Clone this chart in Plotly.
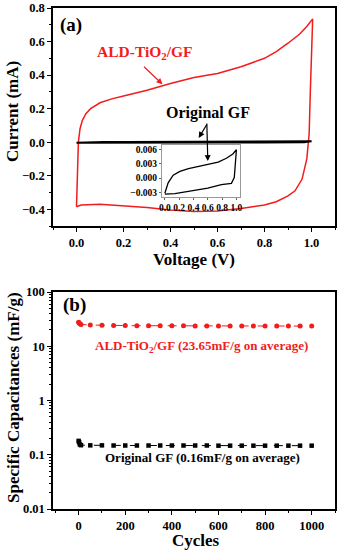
import plotly.graph_objects as go

# ---- Panel (a): CV curves ----
ald_v = [0.0, 0.003, 0.008, 0.015, 0.025, 0.04, 0.06, 0.1, 0.15, 0.2, 0.3, 0.4, 0.5, 0.6, 0.7, 0.8, 0.85, 0.9, 0.95, 0.98, 1.005,
         0.995, 0.99, 0.98, 0.96, 0.93, 0.9, 0.85, 0.8, 0.7, 0.6, 0.5, 0.4, 0.3, 0.2, 0.1, 0.02, 0.0]
ald_i = [-0.385, -0.2, 0.0, 0.08, 0.13, 0.17, 0.2, 0.235, 0.258, 0.275, 0.31, 0.35, 0.385, 0.41, 0.45, 0.5, 0.54, 0.59, 0.645, 0.69, 0.735,
         0.3, 0.05, -0.1, -0.22, -0.29, -0.32, -0.355, -0.375, -0.395, -0.41, -0.413, -0.405, -0.39, -0.378, -0.37, -0.375, -0.385]

gf_v = [0.0, 0.046, 0.116, 0.21, 0.33, 0.465, 0.6, 0.745, 0.86, 0.95, 1.0,
        0.99, 0.97, 0.93, 0.79, 0.6, 0.33, 0.14, 0.0]
gf_i = [-0.0032, -0.001, 0.0006, 0.0014, 0.002, 0.0025, 0.0029, 0.0034, 0.0042, 0.0051, 0.006,
        0.0031, 0.0001, -0.0011, -0.0014, -0.0021, -0.0028, -0.0033, -0.0034]

# ---- Panel (b): cycling ----
cycles = [0, 2, 5, 10, 50, 100, 150, 200, 250, 300, 350, 400, 450, 500, 550, 600, 650, 700, 750, 800, 850, 900, 950, 1000]
ald_cap = [27.8, 27.0, 26.0, 25.2, 24.6, 24.3, 24.1, 24.0, 23.9, 23.9, 23.8, 23.8, 23.8, 23.7, 23.7, 23.7, 23.7, 23.6, 23.6, 23.6, 23.6, 23.5, 23.5, 23.5]
gf_cap = [0.18, 0.17, 0.155, 0.15, 0.149, 0.149, 0.148, 0.148, 0.148, 0.148, 0.148, 0.148, 0.148, 0.148, 0.148, 0.147, 0.147, 0.147, 0.147, 0.147, 0.147, 0.147, 0.147, 0.147]

x_ticks_a = [0.0, 0.2, 0.4, 0.6, 0.8, 1.0]
y_ticks_a = [-0.4, -0.2, 0.0, 0.2, 0.4, 0.6, 0.8]
x_ticks_b = [0, 200, 400, 600, 800, 1000]
y_ticks_b = [0.01, 0.1, 1, 10, 100]
y_text_b = ["0.01", "0.1", "1", "10", "100"]
inset_x_ticks = [0.0, 0.2, 0.4, 0.6, 0.8, 1.0]
inset_y_ticks = [-0.003, 0.0, 0.003, 0.006]

RED = "#f21c1c"
FONT = "Liberation Serif"
W, H = 341, 550

def px(x):
    return x / W

def py(y):
    return 1 - y / H

log_minor = [m * d for d in (0.01, 0.1, 1, 10) for m in range(2, 10)]

fig = go.Figure()
fig.add_trace(go.Scatter(x=ald_v, y=ald_i, mode="lines", line=dict(color=RED, width=1.5), xaxis="x", yaxis="y"))
fig.add_trace(go.Scatter(x=gf_v, y=gf_i, mode="lines", line=dict(color="black", width=2), xaxis="x", yaxis="y"))
fig.add_trace(go.Scatter(x=gf_v, y=gf_i, mode="lines", line=dict(color="black", width=1.3), xaxis="x3", yaxis="y3"))
fig.add_trace(go.Scatter(x=cycles, y=ald_cap, mode="lines+markers",
                         line=dict(color=RED, width=1, dash="dash"),
                         marker=dict(color=RED, size=5, symbol="circle"), xaxis="x2", yaxis="y2"))
fig.add_trace(go.Scatter(x=cycles, y=gf_cap, mode="lines+markers",
                         line=dict(color="black", width=1, dash="dash"),
                         marker=dict(color="black", size=4.5, symbol="square"), xaxis="x2", yaxis="y2"))

tickfont = dict(family=FONT, size=12.5, color="black", weight="bold")
axis_common = dict(showline=True, linecolor="black", linewidth=1.5, mirror=True,
                   ticks="outside", ticklen=4, tickwidth=1.3, tickcolor="black",
                   showgrid=False, zeroline=False, tickfont=tickfont, automargin=False)

fig.update_layout(
    width=W, height=H, margin=dict(l=0, r=0, t=0, b=0),
    paper_bgcolor="white", plot_bgcolor="white", showlegend=False,
    xaxis=dict(domain=[px(53), px(335)], range=[-0.1, 1.1], tickvals=x_ticks_a, tickformat=".1f",
               minor=dict(ticks="outside", ticklen=2.5, dtick=0.1, tick0=0, tickcolor="black"),
               anchor="y", **axis_common),
    yaxis=dict(domain=[py(226), py(8)], range=[-0.5, 0.8], tickvals=y_ticks_a, tickformat=".1f",
               minor=dict(ticks="outside", ticklen=2.5, dtick=0.1, tick0=0, tickcolor="black"),
               anchor="x", **axis_common),
    xaxis2=dict(domain=[px(53), px(335)], range=[-110, 1100], tickvals=x_ticks_b,
                minor=dict(ticks="outside", ticklen=2.5, dtick=100, tick0=0, tickcolor="black"),
                anchor="y2", **axis_common),
    yaxis2=dict(domain=[py(509), py(292)], type="log", range=[-2, 2], tickvals=y_ticks_b, ticktext=y_text_b,
                minor=dict(ticks="outside", ticklen=2.5, tickmode="array", tickvals=log_minor, tickcolor="black"),
                anchor="x2", **axis_common),
    xaxis3=dict(domain=[px(162), px(240)], range=[-0.04, 1.05], tickvals=inset_x_ticks, tickformat=".1f",
                showline=True, linecolor="#999999", linewidth=1, mirror=True,
                ticks="outside", ticklen=2, tickcolor="#666666", showgrid=False, zeroline=False,
                tickfont=dict(family=FONT, size=9.5, color="black", weight="bold"), anchor="y3", automargin=False),
    yaxis3=dict(domain=[py(197), py(145)], range=[-0.004, 0.007], tickvals=inset_y_ticks, tickformat=".3f",
                showline=True, linecolor="#999999", linewidth=1, mirror=True,
                ticks="outside", ticklen=2, tickcolor="#666666", showgrid=False, zeroline=False,
                tickfont=dict(family=FONT, size=9.5, color="black", weight="bold"), anchor="x3", automargin=False),
)

def txt(x, y, s, size, color="black", angle=0):
    fig.add_annotation(x=px(x), y=py(y), xref="paper", yref="paper", text=s, showarrow=False,
                       textangle=angle, xanchor="center", yanchor="middle",
                       font=dict(family=FONT, size=size, color=color, weight="bold"))

txt(71, 25, "(a)", 19)
txt(74, 305, "(b)", 19)
txt(145, 53, "ALD-TiO<sub>2</sub>/GF", 15.5, RED)
txt(208, 113, "Original GF", 16)
txt(201, 346, "ALD-TiO<sub>2</sub>/GF (23.65mF/g on average)", 13, RED)
txt(202, 457, "Original GF (0.16mF/g on average)", 13)
txt(194, 259, "Voltage (V)", 17)
txt(196, 540, "Cycles", 17)
txt(13, 112, "Current (mA)", 17, angle=-90)
txt(13, 398, "Specific Capacitances (mF/g)", 17, angle=-90)

def arrow(xt, yt, xr, yr, ax, ay, color):
    fig.add_annotation(x=xt, y=yt, xref=xr, yref=yr, ax=ax, ay=ay, axref="pixel", ayref="pixel",
                       text="", showarrow=True, arrowhead=2, arrowsize=1, arrowwidth=1.2,
                       arrowcolor=color, standoff=0, startstandoff=0)

arrow(0.366, 0.345, "x", "y", -20, -19, RED)
arrow(0.52, 0.025, "x", "y", 9, -15, "black")
arrow(0.6, 0.0036, "x3", "y3", -1, -39, "black")

fig.write_html("out.html", config={"displayModeBar": False},
               post_script="document.body.style.margin='0';document.body.style.overflow='hidden';")
